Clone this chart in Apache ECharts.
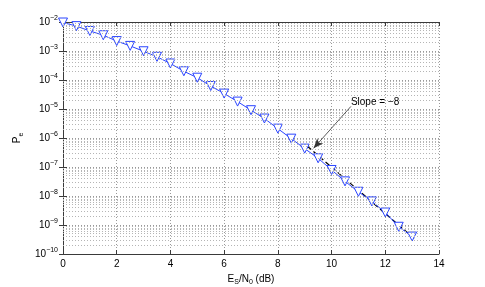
<!DOCTYPE html>
<html><head><meta charset="utf-8">
<script src="https://cdn.jsdelivr.net/npm/echarts@6/dist/echarts.min.js"></script>
<style>html,body{margin:0;padding:0;background:#fff}#c{width:485px;height:287px}</style>
</head><body><div id="c"></div>
<script>
// Data
const snr = [0,0.5,1,1.5,2,2.5,3,3.5,4,4.5,5,5.5,6,6.5,7,7.5,8,8.5,9,9.5,10,10.5,11,11.5,12,12.5,13];
const pe  = [9.6e-3,7.2e-3,4.9e-3,3.5e-3,2.2e-3,1.5e-3,9.8e-4,6.3e-4,3.7e-4,2.0e-4,1.2e-4,6.2e-5,3.4e-5,1.8e-5,9.1e-6,4.7e-6,2.1e-6,9.5e-7,4.3e-7,2.0e-7,7.9e-8,3.2e-8,1.4e-8,6.5e-9,2.7e-9,8.7e-10,4.0e-10];
// Slope = -8 reference line (dashed)
const slopeX = [9.1, 13.15];
const slopeY = [5.2e-7, 3.0e-10];
// annotation
const annoText = 'Slope = \u22128';
const annoStart = [10.72, 1.23e-5];
const annoEnd = [9.33, 4.4e-7];
const xRange = [0, 14];
const yDecades = [-10,-9,-8,-7,-6,-5,-4,-3,-2];

const minorLines = [];
for (let i = 0; i < yDecades.length - 1; i++) {
  for (let k = 2; k <= 9; k++) {
    const v = k * Math.pow(10, yDecades[i]);
    minorLines.push([{coord: [xRange[0], v]}, {coord: [xRange[1], v]}]);
  }
}
const font = 'Liberation Sans, Arial, sans-serif';
const axisCol = '#3a3a3a';
const chart = echarts.init(document.getElementById('c'));
chart.setOption({
  animation: false,
  textStyle: {fontFamily: font, color: '#000'},
  grid: {left: 63, right: 46, top: 22, bottom: 33, containLabel: false, outerBoundsMode: 'none'},
  xAxis: [{
    type: 'value', min: 0, max: 14, interval: 2,
    name: 'E{sub|S}/N{sub|0} (dB)', nameLocation: 'middle', nameGap: 16,
    nameTextStyle: {fontSize: 10, color: '#000', rich: {sub: {fontSize: 7, padding: [7, 0, 0, 0]}}},
    axisLine: {lineStyle: {color: axisCol, width: 1}},
    axisTick: {inside: true, length: 4, lineStyle: {color: axisCol}},
    axisLabel: {fontSize: 10, color: '#000', margin: 5},
    splitLine: {show: true, lineStyle: {color: '#999', type: [1, 2], width: 1}}
  }, {
    type: 'value', min: 0, max: 14, interval: 2, position: 'top',
    axisLine: {lineStyle: {color: axisCol, width: 1}},
    axisTick: {inside: true, length: 4, lineStyle: {color: axisCol}},
    axisLabel: {show: false}, splitLine: {show: false}
  }],
  yAxis: [{
    type: 'log', logBase: 10, min: 1e-10, max: 1e-2, splitNumber: 8,
    name: 'P{sub|e}', nameLocation: 'middle', nameGap: 34, nameRotate: 90,
    nameTextStyle: {fontSize: 10, color: '#000', rich: {sub: {fontSize: 7, padding: [7, 0, 0, 0]}}},
    axisLine: {lineStyle: {color: axisCol, width: 1}},
    axisTick: {inside: true, length: 4, lineStyle: {color: axisCol}},
    axisLabel: {
      fontSize: 10, color: '#000', margin: 5,
      formatter: v => '10{s|' + String(Math.round(Math.log10(v))).replace('-', '\u2212') + '}',
      rich: {s: {fontSize: 7, padding: [0, 0, 8, 0]}}
    },
    splitLine: {show: true, lineStyle: {color: '#999', type: [1, 2], width: 1}}
  }, {
    type: 'log', logBase: 10, min: 1e-10, max: 1e-2, splitNumber: 8, position: 'right',
    axisLine: {lineStyle: {color: axisCol, width: 1}},
    axisTick: {inside: true, length: 4, lineStyle: {color: axisCol}},
    axisLabel: {show: false}, splitLine: {show: false}
  }],
  series: [{
    type: 'line', name: 'grid', silent: true, z: 1,
    data: [[0, 1e-2], [14, 1e-10]],
    showSymbol: false, lineStyle: {width: 0, color: 'transparent'},
    markLine: {silent: true, symbol: ['none', 'none'], label: {show: false}, animation: false,
      lineStyle: {color: '#b5b5b5', type: [1, 2], width: 1, opacity: 1}, data: minorLines}
  }, {
    type: 'line', name: 'slope', z: 3,
    data: slopeX.map((x, i) => [x, slopeY[i]]),
    showSymbol: false, lineStyle: {color: '#000', width: 1.2, type: [5, 3]},
    markLine: {
      silent: true, symbol: ['none', 'arrow'], symbolSize: [6, 10],
      lineStyle: {color: '#333', width: 0.8, type: 'solid'},
      label: {show: false},
      data: [[{coord: annoStart}, {coord: annoEnd}]]
    },
    markPoint: {
      symbol: 'circle', symbolSize: 0,
      label: {show: true, formatter: annoText, position: 'right', distance: 0, offset: [0, -4], fontSize: 10, color: '#000', fontFamily: font},
      data: [{coord: annoStart}]
    }
  }, {
    type: 'line', name: 'Pe', z: 4,
    data: snr.map((x, i) => [x, pe[i]]),
    symbol: 'triangle', symbolRotate: 180, symbolSize: 9,
    lineStyle: {color: '#2a44ff', width: 1},
    itemStyle: {color: '#fff', borderColor: '#2a44ff', borderWidth: 1}
  }]
});
</script></body></html>
